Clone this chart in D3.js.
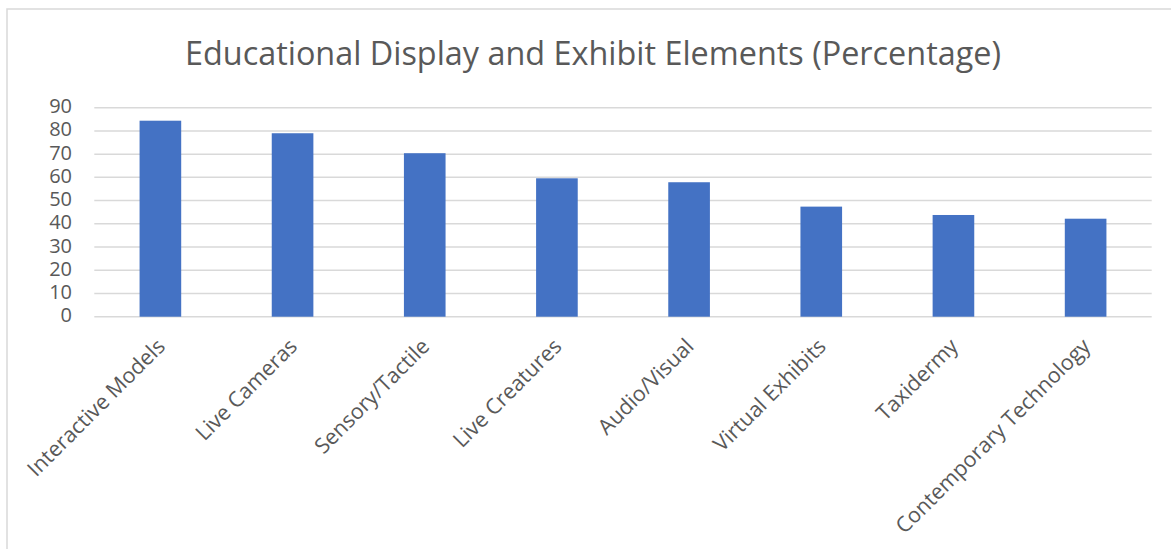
<!DOCTYPE html>
<html><head><meta charset="utf-8">
<script src="https://cdn.jsdelivr.net/npm/d3@7"></script>
<style>html,body{margin:0;padding:0;background:#fff;overflow:hidden}</style>
</head><body>
<svg id="chart" width="1171" height="549"></svg>
<script>
const title = "Educational Display and Exhibit Elements (Percentage)";
const categories = ["Interactive Models","Live Cameras","Sensory/Tactile","Live Creatures","Audio/Visual","Virtual Exhibits","Taxidermy","Contemporary Technology"];
const values = [84.4, 79.0, 70.4, 59.6, 57.9, 47.4, 43.8, 42.2];
const yTicks = [0,10,20,30,40,50,60,70,80,90];

const FONT = "'Open Sans', 'Noto Sans', sans-serif";
const TEXT = "#595959";
const svg = d3.select("#chart");

// chart border
svg.append("rect").attr("x",7).attr("y",9).attr("width",1180).attr("height",560)
  .attr("fill","#fff").attr("stroke","#d9d9d9").attr("stroke-width",1.5);

const x = d3.scaleBand().domain(categories).range([94.3, 1151.7]).paddingInner(0.685).paddingOuter(0.3425);
const y = d3.scaleLinear().domain([0,90]).range([316.7, 107.7]);

// gridlines
svg.append("g").selectAll("line").data(yTicks).join("line")
  .attr("x1",94.3).attr("x2",1151.7)
  .attr("y1",d=>y(d)).attr("y2",d=>y(d))
  .attr("stroke","#d9d9d9").attr("stroke-width",1.5);

// bars
svg.append("g").selectAll("rect").data(values).join("rect")
  .attr("x",(d,i)=>x(categories[i])).attr("width",x.bandwidth())
  .attr("y",d=>y(d)).attr("height",d=>y(0)-y(d))
  .attr("fill","#4472c4");

// y axis labels
svg.append("g").selectAll("text").data(yTicks).join("text")
  .attr("x",72).attr("y",d=>y(d)+5.5)
  .attr("text-anchor","end").attr("fill",TEXT)
  .style("font-family",FONT).style("font-size","20px")
  .text(d=>d);

// category labels
const cl = svg.append("g").selectAll("text").data(categories).join("text")
  .attr("text-anchor","end").attr("fill",TEXT)
  .style("font-family",FONT).style("font-size","20px")
  .attr("transform",d=>`translate(${x(d)+x.bandwidth()/2+6},${y(0)+31}) rotate(-45)`)
  .text(d=>d);
// fit category font size to reference length
const L0 = cl.nodes()[0].getComputedTextLength();
cl.style("font-size", (20*184/L0).toFixed(2)+"px");

// title
const t = svg.append("text").attr("x",593).attr("y",65).attr("text-anchor","middle")
  .attr("fill",TEXT).style("font-family",FONT).style("font-size","32px").text(title);
const tl = t.node().getComputedTextLength();
t.style("font-size",(32*816/tl).toFixed(2)+"px");
</script>
</body></html>
